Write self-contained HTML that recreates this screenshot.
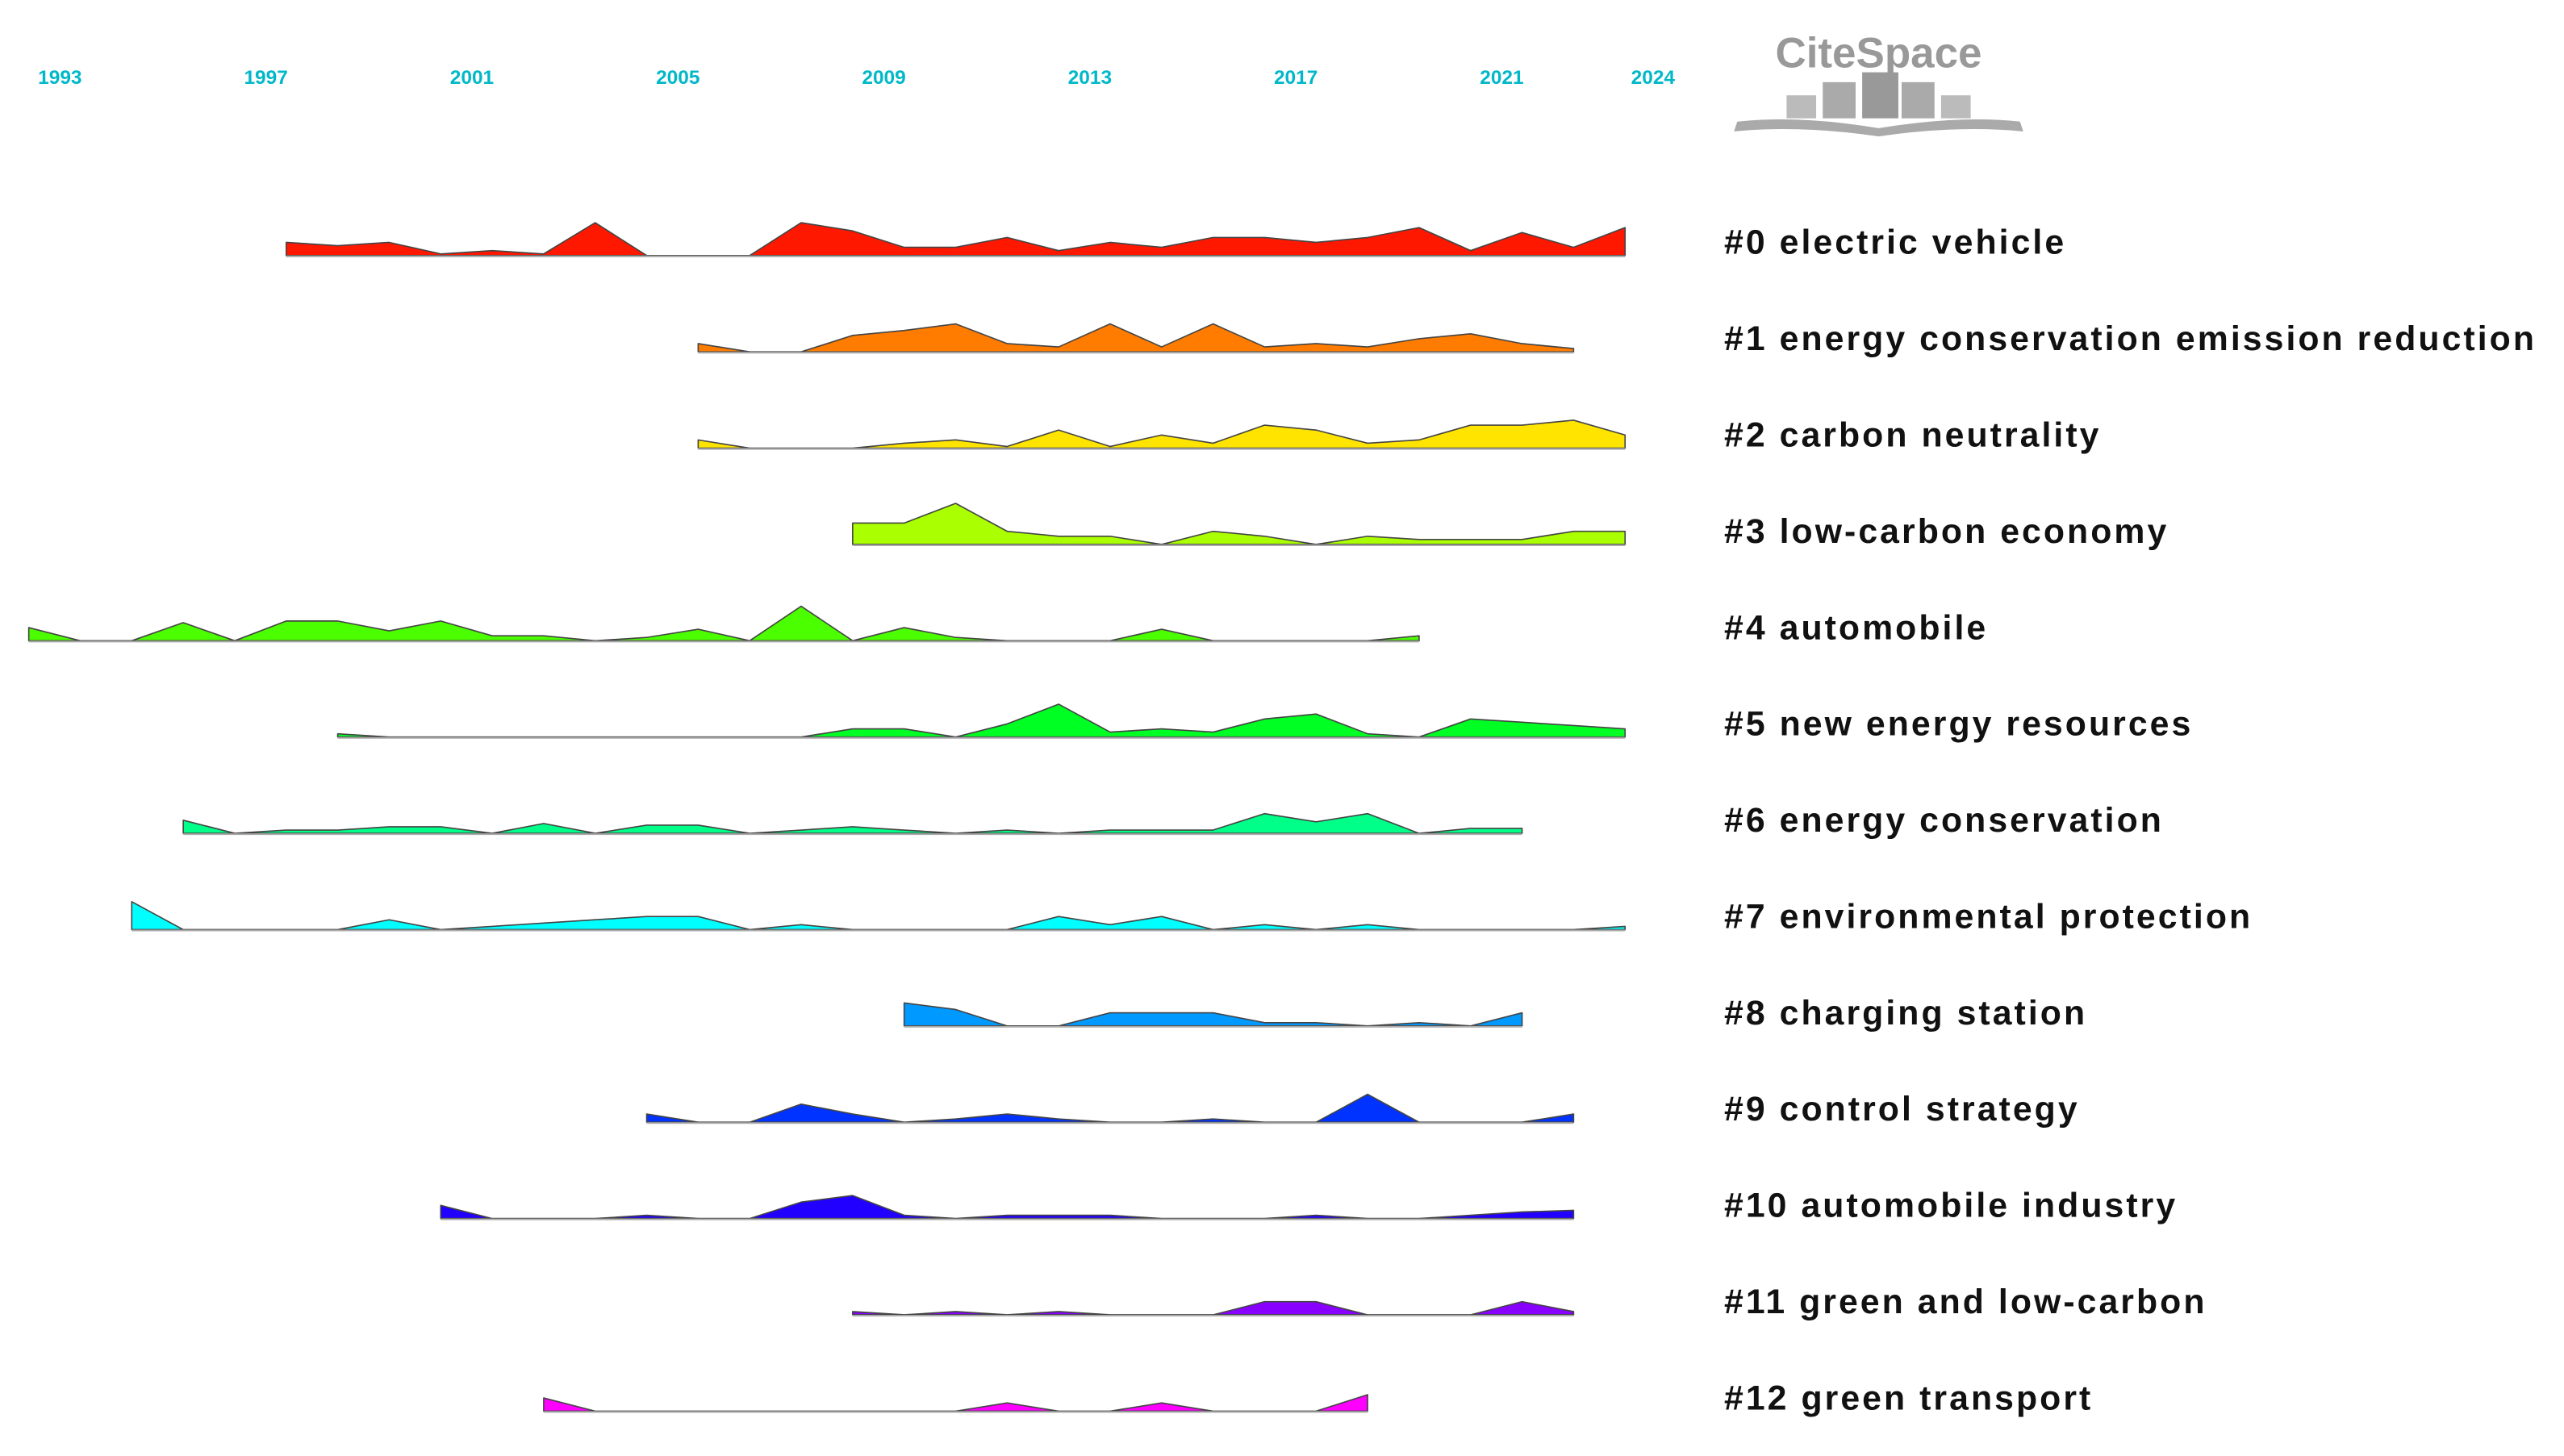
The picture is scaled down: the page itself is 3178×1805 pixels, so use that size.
<!DOCTYPE html>
<html><head><meta charset="utf-8"><style>
html,body{margin:0;padding:0;background:#fff;}
svg{display:block;}
</style></head><body>
<svg id="chart" width="3178" height="1805" viewBox="0 0 1560 886" preserveAspectRatio="none" xmlns="http://www.w3.org/2000/svg">
<g id="axis"></g>
<g id="logo">
  <text x="1143" y="41" text-anchor="middle" font-family="Liberation Sans, sans-serif" font-weight="bold" font-size="26" fill="#999">CiteSpace</text>
  <rect x="1087" y="58" width="18" height="14" fill="#bbb"/>
  <rect x="1109" y="50" width="20" height="22" fill="#aaa"/>
  <rect x="1133" y="44" width="22" height="28" fill="#999"/>
  <rect x="1157" y="50" width="20" height="22" fill="#aaa"/>
  <rect x="1181" y="58" width="18" height="14" fill="#bbb"/>
  <path d="M1057 74 Q1095 70 1143 78 Q1191 70 1229 74 L1231 80 Q1191 76 1143 83 Q1095 76 1055 80 Z" fill="#aaa"/>
</g>
<g id="series"></g>
<g id="labels"></g>
</svg>
<script>
const years = [1993,1997,2001,2005,2009,2013,2017,2021,2024];
const clusterLabels = ["#0 electric vehicle","#1 energy conservation emission reduction","#2 carbon neutrality","#3 low-carbon economy","#4 automobile","#5 new energy resources","#6 energy conservation","#7 environmental protection","#8 charging station","#9 control strategy","#10 automobile industry","#11 green and low-carbon","#12 green transport"];
const startYears = [1998,2006,2006,2009,1993,1999,1996,1995,2010,2005,2001,2009,2003];
const s0 = [8,6,8,1,3,1,20,0,0,0,20,15,5,5,11,3,8,5,11,11,8,11,17,3,14,5,17];
const s1 = [5,0,0,10,13,17,5,3,17,3,17,3,5,3,8,11,5,2];
const s2 = [5,0,0,0,3,5,1,11,1,8,3,14,11,3,5,14,14,17,8];
const s3 = [13,13,25,8,5,5,0,8,5,0,5,3,3,3,8,8];
const s4 = [8,0,0,11,0,12,12,6,12,3,3,0,2,7,0,21,0,8,2,0,0,0,7,0,0,0,0,3];
const s5 = [2,0,0,0,0,0,0,0,0,0,5,5,0,8,20,3,5,3,11,14,2,0,11,9,7,5];
const s6 = [8,0,2,2,4,4,0,6,0,5,5,0,2,4,2,0,2,0,2,2,2,12,7,12,0,3,3];
const s7 = [17,0,0,0,0,6,0,2,4,6,8,8,0,3,0,0,0,0,8,3,8,0,3,0,3,0,0,0,0,2];
const s8 = [14,10,0,0,8,8,8,2,2,0,2,0,8];
const s9 = [5,0,0,11,5,0,2,5,2,0,0,2,0,0,17,0,0,0,5];
const s10 = [8,0,0,0,2,0,0,10,14,2,0,2,2,2,0,0,0,2,0,0,2,4,5];
const s11 = [2,0,2,0,2,0,0,0,8,8,0,0,0,8,2];
const s12 = [8,0,0,0,0,0,0,0,0,5,0,0,5,0,0,0,10];
const seriesValues = [s0,s1,s2,s3,s4,s5,s6,s7,s8,s9,s10,s11,s12];
const colors = ["#ff1800","#ff7c00","#ffe400","#aaff00","#4cff00","#00ff22","#00ff88","#00ffff","#0099ff","#0033ff","#2200ff","#8800ff","#ff00ff"];

const NS="http://www.w3.org/2000/svg";
const xOf = y => 17.5 + (y-1993)*31.33;
const baseOf = i => 155.5 + i*58.6;
const hScale = 1;

const axis=document.getElementById('axis');
years.forEach(y=>{
  const t=document.createElementNS(NS,'text');
  
  
  t.setAttribute('x', xOf(y)+19 - (y===2024?2:0));
  t.setAttribute('y',51);
  t.setAttribute('text-anchor','middle');
  t.setAttribute('font-family','Liberation Sans, sans-serif');
  t.setAttribute('font-weight','bold');
  t.setAttribute('font-size','12');
  t.setAttribute('fill','#00b8c8');
  t.textContent=y;
  axis.appendChild(t);
});

const sg=document.getElementById('series');
const lg=document.getElementById('labels');
seriesValues.forEach((vals,i)=>{
  const b=baseOf(i);
  const pts=vals.map((v,k)=>[xOf(startYears[i]+k), b - v*hScale]);
  const x0=pts[0][0], x1=pts[pts.length-1][0];
  let d=`M${x0},${b} `+pts.map(p=>`L${p[0]},${p[1]}`).join(' ')+` L${x1},${b} Z`;
  const area=document.createElementNS(NS,'path');
  
  
  area.setAttribute('d',d);
  area.setAttribute('fill',colors[i]);
  area.setAttribute('stroke','#444');
  area.setAttribute('stroke-width','0.8');
  area.setAttribute('stroke-linejoin','round');
  sg.appendChild(area);
  const base=document.createElementNS(NS,'line');
  
  
  base.setAttribute('x1',x0);base.setAttribute('x2',x1);
  base.setAttribute('y1',b+0.5);base.setAttribute('y2',b+0.5);
  base.setAttribute('stroke','#aaa');base.setAttribute('stroke-width','1');
  sg.appendChild(base);
  const t=document.createElementNS(NS,'text');
  
  
  t.setAttribute('x',1049);
  t.setAttribute('y',b-1);
  t.setAttribute('font-family','Liberation Sans, sans-serif');
  t.setAttribute('font-weight','bold');
  t.setAttribute('font-size','21');
  t.setAttribute('letter-spacing','1.5');
  t.setAttribute('fill','#111');
  t.textContent=clusterLabels[i];
  lg.appendChild(t);
});
</script>
</body></html>
